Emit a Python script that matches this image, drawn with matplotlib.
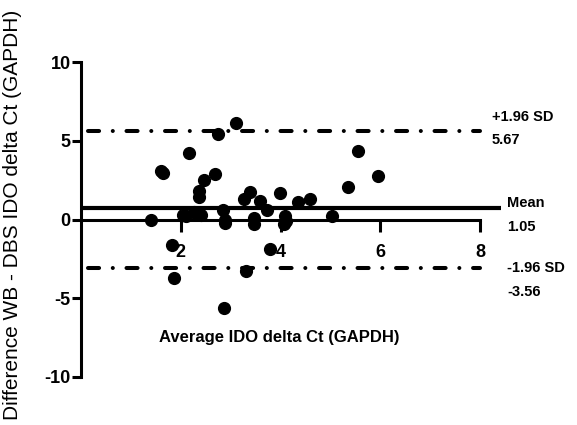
import matplotlib
matplotlib.use('Agg')
import matplotlib.pyplot as plt

plt.rcParams['font.family'] = ['Liberation Sans', 'DejaVu Sans']
plt.rcParams['axes.unicode_minus'] = False

# Bland-Altman: average vs difference
avg_ct = [1.41, 1.60, 1.65, 1.83, 1.87, 2.05, 2.10, 2.17, 2.26, 2.30, 2.37, 2.37,
          2.40, 2.47, 2.68, 2.74, 2.84, 2.88, 2.88, 2.86, 3.10, 3.26, 3.30, 3.38,
          3.46, 3.46, 3.58, 3.72, 3.78, 3.98, 4.10, 4.08, 4.12, 4.35, 4.59, 5.03,
          5.35, 5.55, 5.96]
diff_ct = [0.0, 3.1, 2.95, -1.6, -3.7, 0.3, 0.2, 4.25, 0.5, 0.4, 1.8, 1.4,
           0.3, 2.5, 2.9, 5.4, 0.6, 0.0, -0.2, -5.65, 6.15, 1.3, -3.3, 1.75,
           0.1, -0.3, 1.15, 0.6, -1.85, 1.7, 0.25, -0.3, -0.1, 1.1, 1.3, 0.2,
           2.05, 4.35, 2.75]

# reference lines as drawn, and their printed labels
upper_loa = 5.6
mean_bias = 0.75
lower_loa = -3.1
line_labels = ['+1.96 SD', '5.67', 'Mean', '1.05', '-1.96 SD', '-3.56']

x_ticks = [2, 4, 6, 8]
y_ticks = [-10, -5, 0, 5, 10]

fig = plt.figure(figsize=(5.77, 4.25), dpi=100)
ax = fig.add_axes([0.1404, 0.113, 0.6915, 0.741])

lw_dd = 2.9
ax.plot([0.15, 8], [upper_loa, upper_loa], color='black', lw=lw_dd,
        dashes=(2.75, 3.4, 0.01, 3.4), dash_capstyle='round', clip_on=False, zorder=2)
ax.plot([0.15, 8], [lower_loa, lower_loa], color='black', lw=lw_dd,
        dashes=(2.75, 3.4, 0.01, 3.4), dash_capstyle='round', clip_on=False, zorder=2)
ax.plot([0, 8.42], [mean_bias, mean_bias], color='black', lw=3.0,
        solid_capstyle='butt', clip_on=False, zorder=2)

ax.scatter(avg_ct, diff_ct, s=72, color='black', zorder=3, clip_on=False)

ax.set_xlim(0, 8)
ax.set_ylim(-10, 10)
ax.spines['right'].set_visible(False)
ax.spines['top'].set_visible(False)
ax.spines['bottom'].set_position(('data', 0))
for side in ('left', 'bottom'):
    ax.spines[side].set_linewidth(2.2)
    ax.spines[side].set_capstyle('projecting')

ax.set_xticks(x_ticks)
ax.set_yticks(y_ticks)
ax.tick_params(axis='x', direction='out', length=8.5, width=2.2, pad=9,
               labelsize=13)
ax.tick_params(axis='y', direction='out', length=6.5, width=2.2, pad=1,
               labelsize=13)
for lab in ax.get_xticklabels() + ax.get_yticklabels():
    lab.set_fontweight('bold')

ax.text(3.98, -7.5, 'Average IDO delta Ct (GAPDH)', ha='center', va='center',
        fontsize=12, fontweight='bold')
fig.text(0.021, 1 - 215 / 425, 'Difference WB - DBS IDO delta Ct (GAPDH)',
         rotation=90, ha='center', va='center', fontsize=15)

label_pos = [(8.24, 6.51), (8.24, 5.02), (8.54, 1.02), (8.54, -0.48),
             (8.54, -3.11), (8.54, -4.63)]
for txt, (lx, ly) in zip(line_labels, label_pos):
    ax.text(lx, ly, txt, ha='left', va='center', fontsize=10.5,
            fontweight='bold', clip_on=False)

fig.savefig('out.png', dpi=100)
